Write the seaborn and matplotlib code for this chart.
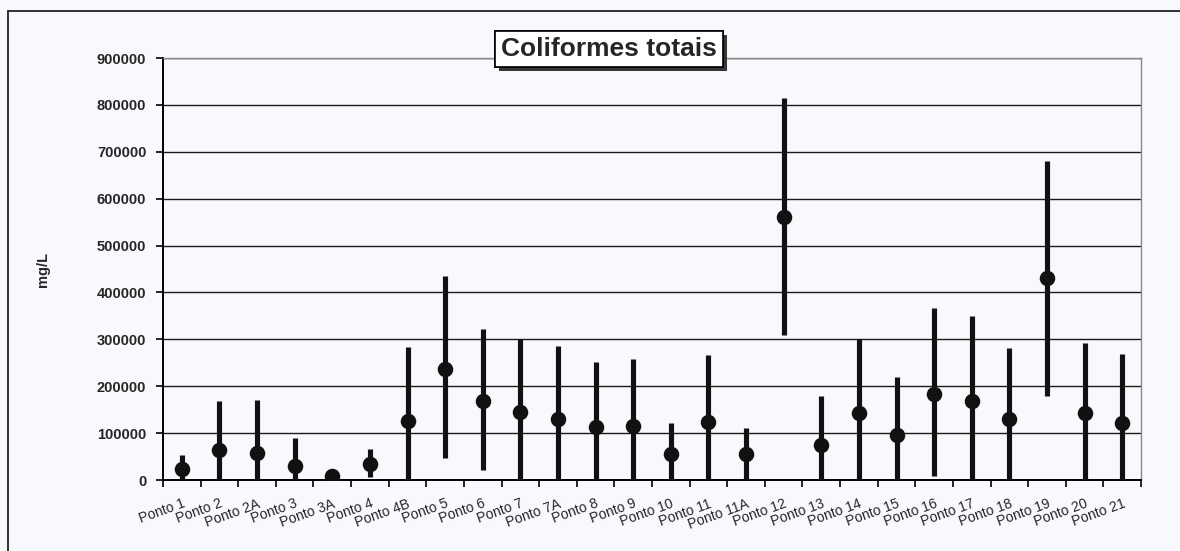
import numpy as np
import matplotlib
matplotlib.use("Agg")
import matplotlib.pyplot as plt
import matplotlib.patheffects as pe
from matplotlib.patches import Rectangle
from matplotlib.ticker import FixedLocator
import seaborn as sns

# values
pontos = ["Ponto 1", "Ponto 2", "Ponto 2A", "Ponto 3", "Ponto 3A", "Ponto 4", "Ponto 4B",
          "Ponto 5", "Ponto 6", "Ponto 7", "Ponto 7A", "Ponto 8", "Ponto 9", "Ponto 10",
          "Ponto 11", "Ponto 11A", "Ponto 12", "Ponto 13", "Ponto 14", "Ponto 15", "Ponto 16",
          "Ponto 17", "Ponto 18", "Ponto 19", "Ponto 20", "Ponto 21"]
medias = [23000, 64000, 58000, 30000, 8000, 34000, 126000, 236000, 168000, 145000, 130000,
          113000, 115000, 55000, 124000, 55000, 560000, 74000, 143000, 96000, 183000, 169000,
          130000, 430000, 142000, 121000]
minimos = [0, 0, 0, 0, 0, 6000, 0, 47000, 21000, 0, 0, 0, 0, 0, 0, 2000, 310000, 0, 0, 0,
           9000, 0, 0, 179000, 0, 0]
maximos = [53000, 168000, 170000, 89000, 14000, 66000, 283000, 436000, 321000, 300000, 285000,
           252000, 257000, 122000, 266000, 111000, 815000, 179000, 300000, 220000, 366000, 350000,
           281000, 681000, 292000, 268000]
yticks = list(range(0, 900001, 100000))

bg = "#f7f9fc"
sns.set_style("white")
plt.rcParams["font.family"] = ["Liberation Sans", "DejaVu Sans"]

fig = plt.figure(figsize=(11.8, 5.51), dpi=100, facecolor=bg)
ax = fig.add_axes([163 / 1180, 1 - 480 / 551, (1141 - 163) / 1180, (480 - 58) / 551])
ax.set_facecolor(bg)

x = np.arange(len(pontos))
ax.vlines(x, minimos, maximos, color="#111111", linewidth=3.7, zorder=3)
sns.scatterplot(x=x, y=medias, color="#111111", s=125, linewidth=0, ax=ax, zorder=4)

ax.set_xlim(-0.5, len(pontos) - 0.5)
ax.set_ylim(0, 900000)
ax.set_yticks(yticks)
ax.set_yticklabels([str(v) for v in yticks], fontsize=10.5, fontweight="bold")
ax.set_xticks(x)
ax.set_xticklabels(pontos, rotation=20, ha="right", rotation_mode="anchor", fontsize=10)
ax.xaxis.set_minor_locator(FixedLocator(np.arange(-0.5, len(pontos), 1.0)))
ax.tick_params(axis="x", which="major", length=0, pad=12)
ax.tick_params(axis="x", which="minor", length=5, width=1.2, direction="out", color="black", bottom=True)
ax.tick_params(axis="y", length=5, width=1.2, direction="out", color="black", pad=7, left=True)

ax.set_axisbelow(True)
ax.grid(axis="y", color="#1a1a1a", linewidth=1.0)
ax.grid(axis="x", visible=False)
for s in ["left", "bottom"]:
    ax.spines[s].set_color("black")
    ax.spines[s].set_linewidth(1.4)
for s in ["top", "right"]:
    ax.spines[s].set_color("#888888")
    ax.spines[s].set_linewidth(1.0)

ax.set_xlabel("")
ax.set_ylabel("mg/L", fontsize=10.5, fontweight="bold", labelpad=34)

t = fig.text(609 / 1180, 1 - 49 / 551, "Coliformes totais", ha="center", va="center",
             fontsize=19, fontweight="bold",
             bbox=dict(boxstyle="square,pad=0.22", facecolor="white", edgecolor="black", linewidth=1.2))
t.get_bbox_patch().set_path_effects([
    pe.withSimplePatchShadow(offset=(3, -3), shadow_rgbFace="#222222", alpha=0.9), pe.Normal()])

# outer chart frame
fig.patches.append(Rectangle((8 / 1180, -0.05), 1.2, 1 - 11 / 551 + 0.05, transform=fig.transFigure,
                             fill=False, edgecolor="#222222", linewidth=1.3))

plt.savefig("out.png", dpi=100, facecolor=bg)
